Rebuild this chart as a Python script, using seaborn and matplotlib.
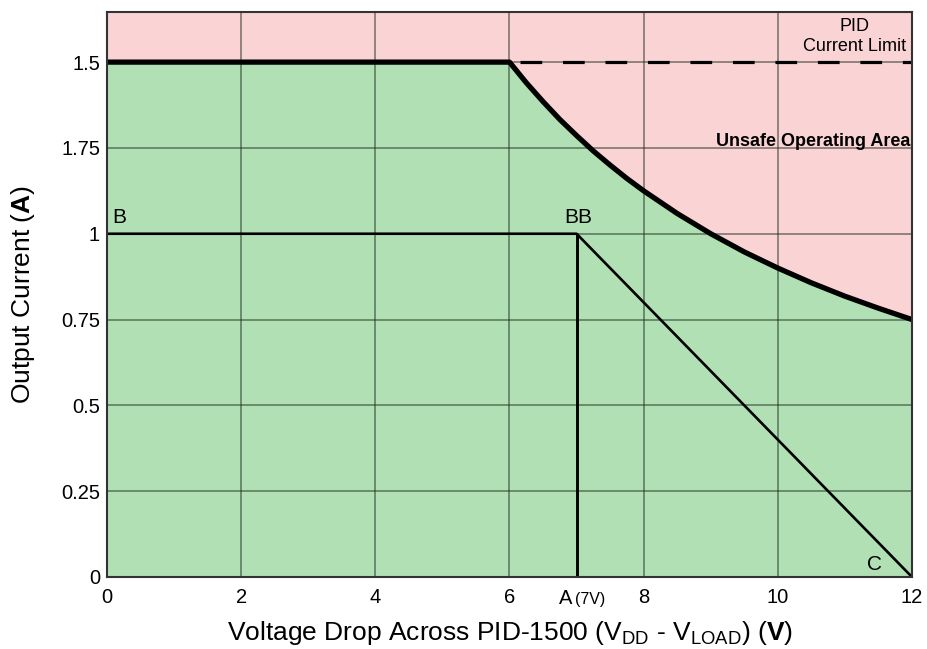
import matplotlib
matplotlib.use("Agg")
import matplotlib.pyplot as plt
import matplotlib.transforms as mtransforms
import seaborn as sns
import pandas as pd

# ---- data ----
limit_v = [0, 6, 6.25, 6.5, 6.75, 7, 7.25, 7.5, 7.75, 8, 8.5, 9, 9.5, 10, 10.5, 11, 11.5, 12]
limit_i = [1.5, 1.5, 1.44, 1.385, 1.333, 1.286, 1.241, 1.2, 1.161, 1.125, 1.059, 1.0, 0.947,
           0.9, 0.857, 0.818, 0.783, 0.75]
pid_limit_v = [6.15, 12]
pid_limit_i = [1.5, 1.5]
load_v = [0, 7, 12]
load_i = [1, 1, 0]
a_line_v = [7, 7]
a_line_i = [0, 1]
x_ticks = [0, 2, 4, 6, 8, 10, 12]
x_tick_labels = ["0", "2", "4", "6", "8", "10", "12"]
y_ticks = [0, 0.25, 0.5, 0.75, 1, 1.25, 1.5]
y_tick_labels = ["0", "0.25", "0.5", "0.75", "1", "1.75", "1.5"]

sns.set_style("white")
plt.rcParams["font.family"] = ["Liberation Sans", "DejaVu Sans"]
plt.rcParams["mathtext.fontset"] = "custom"
plt.rcParams["mathtext.rm"] = "Liberation Sans"
plt.rcParams["mathtext.bf"] = "Liberation Sans:bold"
plt.rcParams["mathtext.it"] = "Liberation Sans:italic"
plt.rcParams["text.color"] = "black"
plt.rcParams["axes.labelcolor"] = "black"

PINK = "#fad3d4"
GREEN = "#b2e0b5"

fig = plt.figure(figsize=(9.28, 6.49), dpi=100)
ax = fig.add_axes([107 / 928, 72 / 649, 805 / 928, 565 / 649])
ax.set_facecolor(PINK)
ax.set_xlim(0, 12)
ax.set_ylim(0, 1.646)

ax.fill_between(limit_v, 0, limit_i, color=GREEN, zorder=1, linewidth=0)

ax.set_axisbelow("line")
ax.set_xticks(x_ticks)
ax.set_xticklabels(x_tick_labels)
ax.set_yticks(y_ticks)
ax.set_yticklabels(y_tick_labels)
ax.grid(True, color="#1a2a1a", alpha=0.55, linewidth=1.2)
ax.tick_params(axis="both", length=0, labelsize=14.5, labelcolor="black")
ax.tick_params(axis="x", pad=8)
ax.tick_params(axis="y", pad=5)
for s in ax.spines.values():
    s.set_color("#333333")
    s.set_linewidth(1.5)
    s.set_zorder(5)

common = dict(ax=ax, color="black", sort=False, estimator=None, zorder=4)
df_lim = pd.DataFrame({"v": limit_v, "i": limit_i})
sns.lineplot(data=df_lim, x="v", y="i", linewidth=3.8, solid_capstyle="butt", **common)
df_pid = pd.DataFrame({"v": pid_limit_v, "i": pid_limit_i})
sns.lineplot(data=df_pid, x="v", y="i", linewidth=2.3, linestyle=(0, (6.8, 6.5)), **common)
df_load = pd.DataFrame({"v": load_v, "i": load_i})
sns.lineplot(data=df_load, x="v", y="i", linewidth=1.9, **common)
df_a = pd.DataFrame({"v": a_line_v, "i": a_line_i})
sns.lineplot(data=df_a, x="v", y="i", linewidth=2.1, **common)

ax.set_xlabel(r"Voltage Drop Across PID-1500 (V$_{\mathrm{DD}}$ - V$_{\mathrm{LOAD}}$) ($\mathbf{V}$)",
              fontsize=19, labelpad=8.5)
ax.set_ylabel(r"Output Current ($\mathbf{A}$)", fontsize=19, labelpad=17)

ax.text(0.08, 1.02, "B", fontsize=15, ha="left", va="bottom", zorder=6)
ax.text(7.03, 1.02, "BB", fontsize=15, ha="center", va="bottom", zorder=6)
ax.text(11.55, 0.01, "C", fontsize=15, ha="right", va="bottom", zorder=6)
ax.text(11.15, 1.52, "PID\nCurrent Limit", fontsize=13, ha="center", va="bottom",
        linespacing=1.25, zorder=6)
ax.text(11.97, 1.27, "Unsafe Operating Area", fontsize=13, fontweight="bold",
        ha="right", va="center", zorder=6)

# tick label at A (7V)
trans = mtransforms.blended_transform_factory(ax.transData, ax.transAxes)
ax.text(6.93, -0.022, "A", fontsize=14.5, ha="right", va="top", transform=trans)
ax.text(6.97, -0.027, "(7V)", fontsize=11.5, ha="left", va="top", transform=trans)

fig.savefig("out.png", dpi=100)
